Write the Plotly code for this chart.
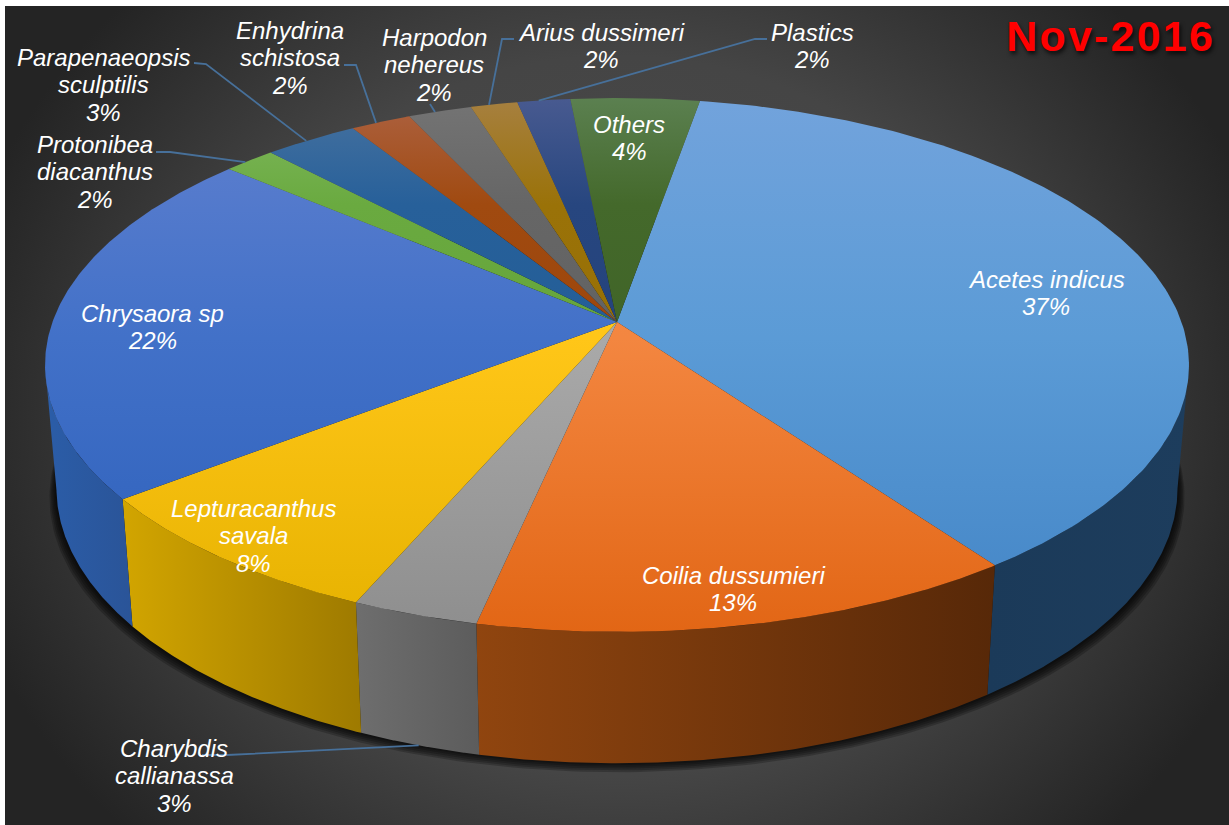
"""Nov-2016 catch composition drawn as a tilted 3D pie."""

import numpy as np
import plotly.graph_objects as go

FONT = "Liberation Sans"
WIDTH, HEIGHT = 1229, 825

# ---------------------------------------------------------------- data
species = [
    "Acetes indicus", "Coilia dussumieri", "Charybdis callianassa",
    "Lepturacanthus savala", "Chrysaora sp", "Protonibea diacanthus",
    "Parapenaeopsis sculptilis", "Enhydrina schistosa", "Harpodon nehereus",
    "Arius dussimeri", "Plastics", "Others",
]
shares = [37.4, 13.25, 3.08, 8.03, 21.8, 1.7, 3.1, 2.0, 2.1, 1.55, 1.75, 4.25]
label_lines = [
    ["Acetes indicus"], ["Coilia dussumieri"], ["Charybdis", "callianassa"],
    ["Lepturacanthus", "savala"], ["Chrysaora sp"], ["Protonibea", "diacanthus"],
    ["Parapenaeopsis", "sculptilis"], ["Enhydrina", "schistosa"], ["Harpodon", "nehereus"],
    ["Arius dussimeri"], ["Plastics"], ["Others"],
]

# ---------------------------------------------------------------- styling
# colour at the pie's far edge, at the mid stop, at its near edge
top_shades = [
    ["#72a3dc", "#5b9bd6", "#4385c6"],
    ["#f79050", "#f38640", "#e26615"],
    ["#b8b8b8", "#a9a9a9", "#8e8e8e"],
    ["#ffcc3a", "#ffc618", "#e6b200"],
    ["#6080cf", "#4271c8", "#2c5fba"],
    ["#80b85f", "#6aaa40", "#5c9a30"],
    ["#47729f", "#27609a", "#1c5a92"],
    ["#ad6242", "#a04a10", "#983e02"],
    ["#747474", "#666666", "#5a5a5a"],
    ["#a78040", "#9a7208", "#926c00"],
    ["#485a90", "#27467f", "#1e3c78"],
    ["#5b8050", "#44692b", "#385a20"],
]
mid_stops = [0.45, 0.45, 0.45, 0.45, 0.45, 0.2, 0.2, 0.2, 0.2, 0.2, 0.2, 0.2]
wall_shades = [
    ["#1b3a59", "#1d3d5d"],
    ["#90450f", "#572808"],
    ["#6e6e6e", "#5c5c5c"],
    ["#d2a500", "#9e7a00"],
    ["#2b5da8", "#2a5498"],
    ["#3a6a20", "#3a6a20"],
    ["#1b4a70", "#1b4a70"],
    ["#7a3000", "#7a3000"],
    ["#444444", "#444444"],
    ["#6e5400", "#6e5400"],
    ["#18305c", "#18305c"],
    ["#2c4618", "#2c4618"],
]
# centre x, first line y of each label
label_pos = [
    (1046, 279), (733, 575), (174, 748), (253, 508), (152, 313), (95, 144),
    (103, 57), (290, 30), (434, 37), (601, 32), (812, 32), (629, 124),
]
LINE_PITCH = 27.6
# leader line start points, from the label to the rim
leader_starts = {
    5: [(156, 152), (170, 152)],
    6: [(194, 63), (206, 64)],
    7: [(344, 65), (356, 65)],
    8: [(430, 104)],
    9: [(514, 39), (502, 39)],
    10: [(767, 39), (755, 39)],
    2: [(202, 755), (227, 755)],
}

# ---------------------------------------------------------------- pie projection
HUB_X, HUB_Y = 617, 322
SCALE_X, SCALE_Y, PERSP = 564.5, 260, 0.161
WALL_SHRINK_X, WALL_SCALE_Y, WALL_DROP = 0.98, 1.03, 122
START_ANGLE = 9.8
# where the rim turns away from the viewer
TANGENT = float(np.degrees(np.arccos(-PERSP)))


def rim(angle):
    a = np.radians(angle)
    u, v = np.sin(a), np.cos(a)
    d = 1 + PERSP * v
    return HUB_X + SCALE_X * u / d, HUB_Y - SCALE_Y * v / d


def base(angle):
    x, y = rim(angle)
    return HUB_X + (x - HUB_X) * WALL_SHRINK_X, HUB_Y + WALL_DROP + (y - HUB_Y) * WALL_SCALE_Y


edges = START_ANGLE + np.concatenate([[0], np.cumsum(shares)]) * 360 / sum(shares)

fig = go.Figure()


def add_poly(x, y, gradient=None, color=None):
    kw = dict(fillgradient=gradient) if gradient else dict(fillcolor=color)
    fig.add_trace(go.Scatter(
        x=list(x), y=list(y), mode="lines", fill="toself", line=dict(width=0),
        hoverinfo="skip", showlegend=False, **kw,
    ))


# background
add_poly(
    [-63, 1297, 1297, -63], [-184, -184, 1016, 1016],
    gradient=dict(type="radial", colorscale=[
        [0, "#4c4c4c"], [0.6, "#454545"], [0.9, "#2c2c2c"], [1, "#242424"],
    ]),
)

# soft shadow under the base
ring = np.linspace(0, 360, 361)
for k in range(5, 0, -1):
    bx, by = base(ring)
    add_poly(HUB_X + (bx - HUB_X) * (1 + 0.0025 * k), by + 1.8 * k, color="rgba(0,0,0,0.22)")

# walls, only where they face the viewer
for i in range(len(shares)):
    lo, hi = max(edges[i], TANGENT), min(edges[i + 1], 360 - TANGENT)
    if lo >= hi:
        continue
    t = np.linspace(lo, hi, 120)
    tx, ty = rim(t)
    bx, by = base(t)
    x = np.concatenate([tx, bx[::-1]])
    y = np.concatenate([ty, by[::-1]])
    add_poly(x, y, gradient=dict(
        type="horizontal", start=float(x.min()), stop=float(x.max()),
        colorscale=[[0, wall_shades[i][0]], [1, wall_shades[i][1]]],
    ))

# top slices
for i in range(len(shares)):
    t = np.linspace(edges[i], edges[i + 1], 160)
    tx, ty = rim(t)
    add_poly(
        np.concatenate([[HUB_X], tx]), np.concatenate([[HUB_Y], ty]),
        gradient=dict(
            type="vertical", start=98, stop=632,
            colorscale=[[0, top_shades[i][0]], [mid_stops[i], top_shades[i][1]], [1, top_shades[i][2]]],
        ),
    )

# leader lines
for i, pts in leader_starts.items():
    mid = (edges[i] + edges[i + 1]) / 2
    end = base(mid) if i == 2 else rim(mid - 0.6)
    xs = [p[0] for p in pts] + [float(end[0])]
    ys = [p[1] for p in pts] + [float(end[1])]
    fig.add_trace(go.Scatter(
        x=xs, y=ys, mode="lines", line=dict(color="#47709a", width=1.8),
        hoverinfo="skip", showlegend=False,
    ))

# labels
for i, lines in enumerate(label_lines):
    px, py = label_pos[i]
    for n, text in enumerate(lines + [f"{round(shares[i])}%"]):
        fig.add_annotation(
            x=px, y=py + n * LINE_PITCH, text=text, showarrow=False,
            xanchor="center", yanchor="middle",
            font=dict(family=FONT, size=24, color="#FFFFFF", style="italic"),
        )

fig.add_annotation(
    x=1110, y=36, text="<b>Nov-2016</b>", showarrow=False,
    xanchor="center", yanchor="middle",
    font=dict(family=FONT, size=43, color="#FF0000", shadow="2px 3px 4px rgba(0,0,0,0.7)"),
)

fig.update_layout(
    width=WIDTH, height=HEIGHT,
    paper_bgcolor="#FFFFFF", plot_bgcolor="#2c2c2c",
    margin=dict(l=5, r=0, t=6, b=0),
    showlegend=False,
)
fig.update_xaxes(visible=False, range=[5, WIDTH], fixedrange=True)
fig.update_yaxes(visible=False, range=[HEIGHT, 6], fixedrange=True)

# page margin off, and the wide tracking of the title
POST = """
document.body.style.margin='0';document.body.style.overflow='hidden';
document.querySelectorAll('.annotation-text').forEach(function(t){
  if(t.textContent==='Nov-2016'){t.style.letterSpacing='2.2px';}
});
"""
fig.write_html("out.html", config=dict(displayModeBar=False), post_script=POST)
